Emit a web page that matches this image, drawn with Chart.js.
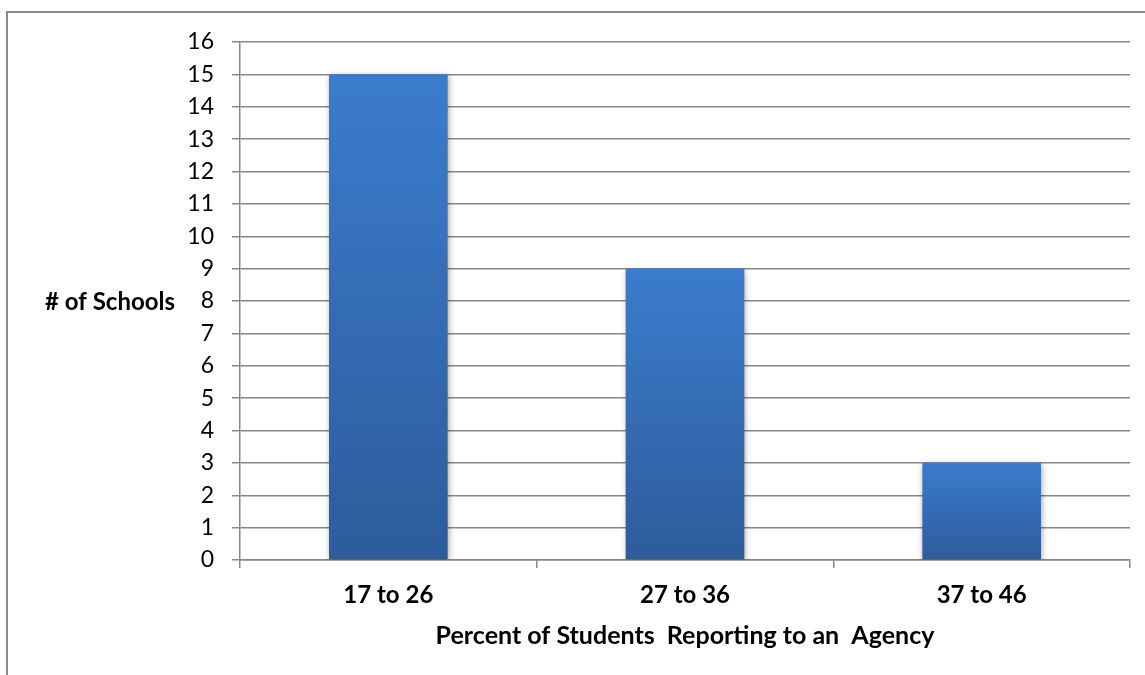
<!DOCTYPE html>
<html>
<head>
<meta charset="utf-8">
<script src="https://cdn.jsdelivr.net/npm/chart.js@4"></script>
<style>
html,body{margin:0;padding:0;background:#fff;}
#wrap{width:1145px;height:675px;position:relative;}
</style>
</head>
<body>
<div id="wrap"><canvas id="c" width="1145" height="675"></canvas></div>
<script>
const categories = ['17 to 26', '27 to 36', '37 to 46'];
const schoolCounts = [15, 9, 3];
const yMin = 0;
const yMax = 16;
const yStep = 1;
const xAxisTitle = 'Percent of Students  Reporting to an  Agency';
const yAxisTitle = '# of Schools';

const gridColor = '#878787';
const FONT = 'Lato, Carlito, Calibri, sans-serif';

const framePlugin = {
  id: 'frame',
  beforeDraw(chart) {
    const ctx = chart.ctx;
    ctx.save();
    ctx.fillStyle = '#fff';
    ctx.fillRect(0, 0, chart.width, chart.height);
    ctx.strokeStyle = '#8c8c8c';
    ctx.lineWidth = 2;
    ctx.beginPath();
    ctx.moveTo(7, chart.height + 5);
    ctx.lineTo(7, 12);
    ctx.lineTo(chart.width + 5, 12);
    ctx.stroke();
    ctx.restore();
  },
  beforeDatasetsDraw(chart) {
    const ctx = chart.ctx;
    ctx.save();
    ctx.shadowColor = 'rgba(0,0,0,0.35)';
    ctx.shadowBlur = 6;
    ctx.shadowOffsetX = 1;
    ctx.shadowOffsetY = 2;
  },
  afterDatasetsDraw(chart) {
    chart.ctx.restore();
  },
  afterDraw(chart) {
    const ctx = chart.ctx;
    const y = chart.scales.y;
    ctx.save();
    ctx.font = 'bold 24px ' + FONT;
    ctx.fillStyle = '#000';
    ctx.textAlign = 'right';
    ctx.textBaseline = 'middle';
    ctx.fillText(yAxisTitle, 175, y.getPixelForValue(8) + 1);
    ctx.restore();
  }
};

function barGradient(context) {
  const chart = context.chart;
  if (!chart.chartArea || !chart.scales.y) return '#3a78c6';
  const v = context.raw;
  const ys = chart.scales.y;
  const top = ys.getPixelForValue(v);
  const bottom = ys.getPixelForValue(0);
  if (!isFinite(top) || !isFinite(bottom) || top === bottom) return '#3a78c6';
  const g = chart.ctx.createLinearGradient(0, top, 0, bottom);
  g.addColorStop(0, '#3b7ccd');
  g.addColorStop(1, '#2d5c9b');
  return g;
}

new Chart(document.getElementById('c'), {
  type: 'bar',
  data: {
    labels: categories,
    datasets: [{
      data: schoolCounts,
      backgroundColor: barGradient,
      borderWidth: 0,
      barPercentage: 0.4,
      categoryPercentage: 1.0
    }]
  },
  plugins: [framePlugin],
  options: {
    responsive: false,
    animation: false,
    devicePixelRatio: 1,
    layout: { padding: { left: 0, right: 15, top: 42, bottom: 0 } },
    plugins: {
      legend: { display: false },
      tooltip: { enabled: false },
      title: { display: false }
    },
    scales: {
      x: {
        afterFit(scale) { scale.height = 115; },
        grid: {
          display: true,
          drawOnChartArea: false,
          drawTicks: true,
          offset: true,
          tickLength: 8,
          color: gridColor,
          lineWidth: 1.5
        },
        border: { display: true, color: gridColor, width: 1.5 },
        ticks: {
          color: '#000',
          font: { family: FONT, size: 24, weight: 'bold' },
          padding: 13,
          maxRotation: 0
        },
        title: {
          display: true,
          text: xAxisTitle,
          color: '#000',
          font: { family: FONT, size: 25, weight: 'bold' },
          padding: { top: 0, bottom: 24 }
        }
      },
      y: {
        min: yMin,
        max: yMax,
        afterFit(scale) { scale.width = 240; },
        grid: {
          color: gridColor,
          lineWidth: 1.5,
          tickLength: 8,
          drawTicks: true
        },
        border: { display: true, color: gridColor, width: 1.5 },
        ticks: {
          stepSize: yStep,
          color: '#000',
          font: { family: FONT, size: 23 },
          padding: 18
        }
      }
    }
  }
});
</script>
</body>
</html>
